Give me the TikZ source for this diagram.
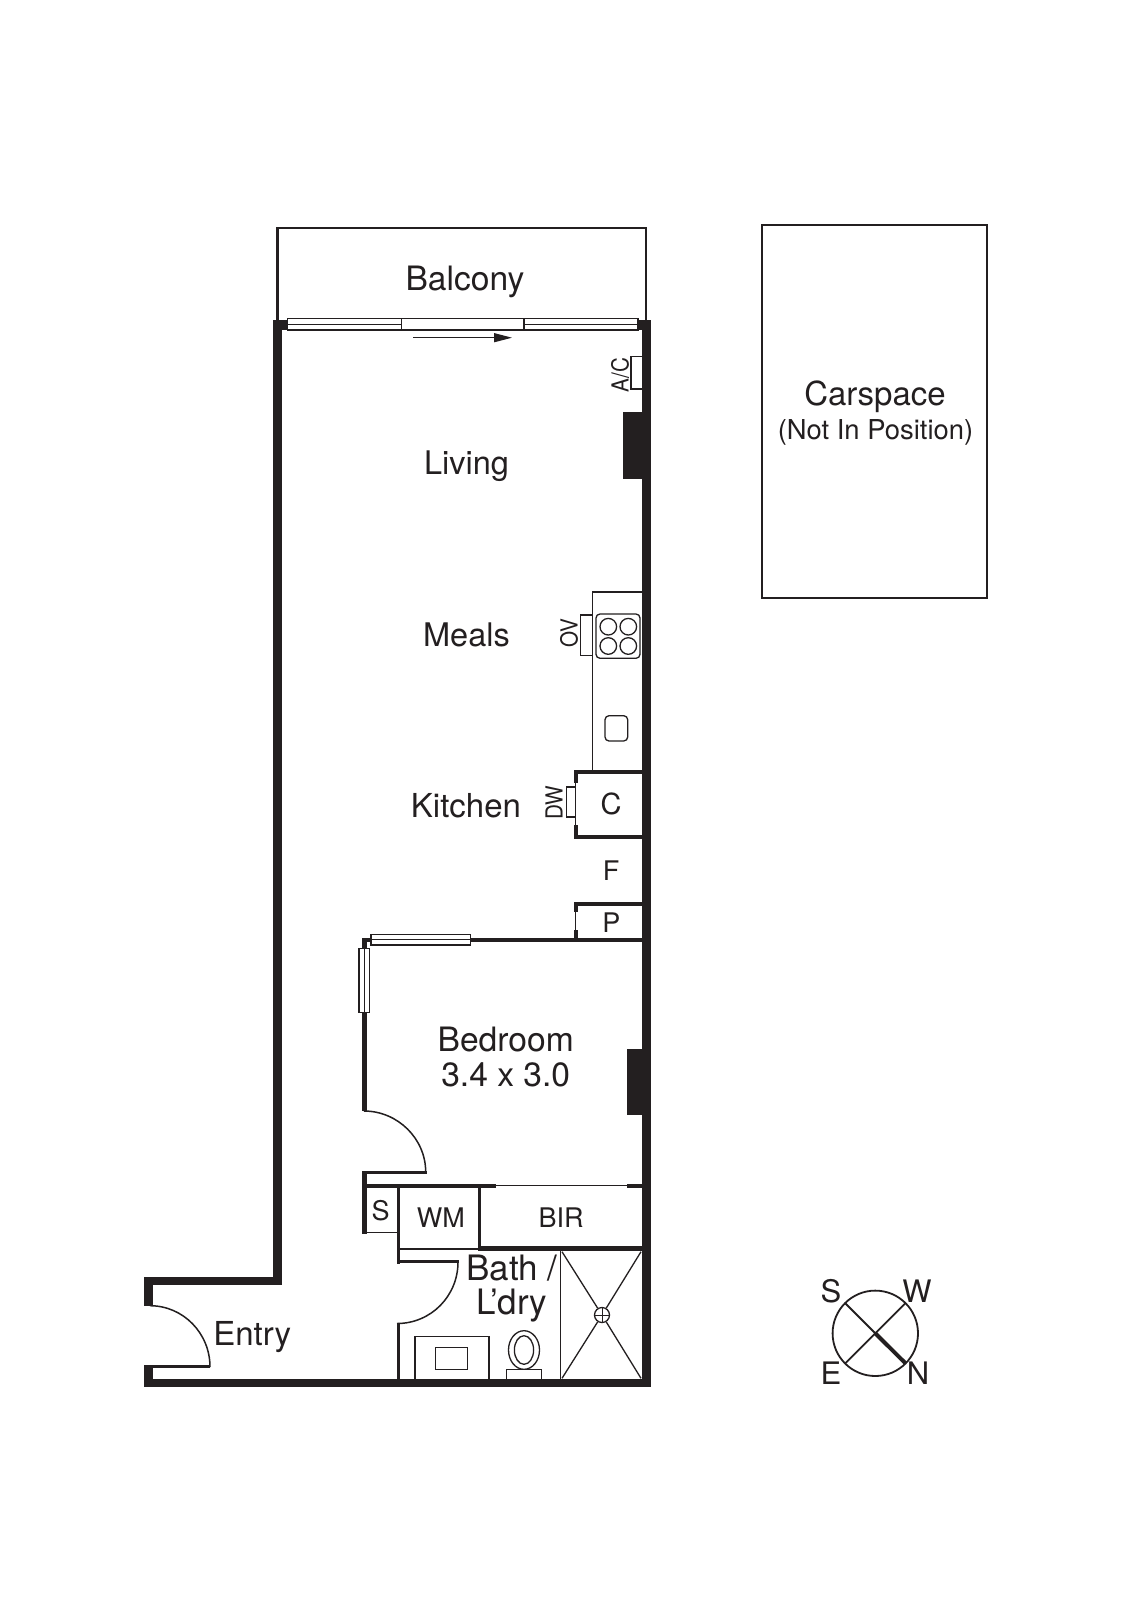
\documentclass[tikz,border=0pt]{standalone}
\usepackage{fontspec}
\setmainfont{TeX Gyre Heros}
\usetikzlibrary{arrows.meta}
\definecolor{ink}{HTML}{231F20}
\tikzset{
  wallfill/.style={fill=ink,draw=none},
  thin line/.style={draw=ink,line width=1.3pt},
  med line/.style={draw=ink,line width=1.7pt},
  doorleaf/.style={draw=ink,line width=1.5pt},
  windowbox/.style={draw=ink,line width=1.2pt,fill=white},
  lab/.style={anchor=base,inner sep=0pt,text=ink,font=\fontsize{33}{33}\selectfont},
  lbig/.style={anchor=base,inner sep=0pt,text=ink,font=\fontsize{33.6}{33.6}\selectfont},
  mid/.style={anchor=base,inner sep=0pt,text=ink,font=\fontsize{27}{27}\selectfont},
  sml/.style={anchor=center,inner sep=0pt,text=ink,rotate=90,xscale=.88,font=\fontsize{23.5}{23.5}\selectfont},
  cmp/.style={anchor=center,inner sep=0pt,text=ink,font=\fontsize{31}{31}\selectfont},
}
\newcommand{\wl}[4]{\fill[wallfill] (#1,#2) rectangle (#3,#4);}
\begin{document}
\begin{tikzpicture}[x=1pt,y=-1pt]
\useasboundingbox[fill=white] (0,0) rectangle (1131,1600);
% balcony
\draw[ink,line width=2.5pt] (277.5,322) -- (277.5,228) -- (646,228) -- (646,322);
% carspace
\draw[ink,line width=2pt] (762.3,225) rectangle (987.3,597.7);
% outer walls
\wl{273}{320}{282}{1284}
\wl{143.8}{1276.7}{282}{1284.5}
\wl{143.8}{1276.7}{152.7}{1305.7}
\wl{143.8}{1366}{152.7}{1387.3}
\wl{143.8}{1379.3}{650.7}{1387.3}
\wl{642}{320}{650.7}{1387.3}
\wl{273}{320}{290}{330}
\wl{636}{320}{650.7}{330}
% balcony door
\draw[windowbox] (287.7,318.7) rectangle (401.7,330);
\draw[windowbox] (524,318.7) rectangle (638,330);
\draw[windowbox] (401.7,318.7) rectangle (524,330);
\draw[ink,line width=1pt] (287.7,324.4) -- (401.7,324.4) (524,324.4) -- (638,324.4);
\coordinate (slideA) at (413,337.7);
\coordinate (slideB) at (512,337.7);
\draw[ink,line width=1.2pt,-{Triangle[length=18pt,width=9pt]}] (slideA) -- (slideB);
% A/C and chimney blocks
\draw[thin line] (642,356.7) -- (631,356.7) -- (631,389) -- (642,389);
\wl{623}{411.7}{642}{479}
% kitchen bench
\draw[med line] (592.5,770) -- (592.5,591.7) -- (642,591.7);
\draw[thin line] (592.5,615) -- (580.7,615) -- (580.7,655.7) -- (592.5,655.7);
\draw[thin line,rounded corners=4pt] (596,614) rectangle (640,658.3);
\foreach \cx/\cy in {608.3/626.7,628.3/626.7,608.3/646,628.3/646}
  \draw[thin line] (\cx,\cy) circle[radius=8.3pt];
\draw[thin line,rounded corners=4pt] (605,715.7) rectangle (627.7,741);
% C cupboard
\wl{574}{769.5}{642}{774}
\wl{574}{769.5}{578}{783}
\wl{574}{825}{578}{839}
\wl{574}{834.5}{642}{839}
\draw[thin line] (575.7,783) -- (575.7,825);
\draw[thin line] (575.7,787) -- (566.7,787) -- (566.7,817) -- (575.7,817);
% pantry
\wl{574}{902}{642}{906}
\wl{574}{902}{578}{911.7}
\wl{574}{930}{578}{942}
\draw[thin line] (575.7,911.7) -- (575.7,930);
% bedroom walls
\wl{362}{937.7}{642}{942.2}
\draw[windowbox] (371,934.3) rectangle (470.3,945);
\draw[ink,line width=1pt] (371,939.6) -- (470.3,939.6);
\wl{362}{937.7}{366.7}{950}
\wl{362}{1012}{366.7}{1111}
\draw[windowbox] (359,948.3) rectangle (369.7,1012.7);
\draw[ink,line width=1pt] (364.4,948.3) -- (364.4,1012.7);
\wl{627}{1049.3}{642}{1115}
% bedroom door
\draw[doorleaf] (364,1111) .. controls (397.5,1111) and (425.7,1138.5) .. (425.7,1172);
\wl{362.4}{1170.5}{426.5}{1174}
\wl{362.4}{1170.5}{366.8}{1233.5}
% robe wall
\wl{362.4}{1183.5}{496}{1188}
\draw[thin line] (496,1185.7) -- (627,1185.7);
\wl{627}{1183.5}{642}{1188}
% S / WM / BIR
\draw[med line] (362.4,1232.4) -- (398,1232.4);
\wl{396.8}{1186}{400}{1263.5}
\wl{477.6}{1186}{481.4}{1250.5}
\wl{478}{1246}{642}{1250.7}
\draw[thin line] (398,1249) -- (479,1249);
% bath door
\wl{396.8}{1260}{458.5}{1263.3}
\draw[doorleaf] (458,1262) .. controls (458,1296) and (431,1323.5) .. (397,1323.5);
\wl{396.8}{1323.3}{400}{1381}
% shower
\draw[thin line] (560.3,1250) -- (560.3,1380);
\coordinate (shTL) at (562,1251.7);
\coordinate (shTR) at (641,1251.7);
\coordinate (shBL) at (562,1378.3);
\coordinate (shBR) at (641,1378.3);
\node[circle,draw=ink,line width=1.3pt,minimum size=15pt,inner sep=0pt] (drain) at (602,1315) {};
\draw[thin line] (shTL) -- (drain) (shTR) -- (drain) (shBL) -- (drain) (shBR) -- (drain);
\draw[ink,line width=1pt] (drain.north) -- (drain.south) (drain.west) -- (drain.east);
% vanity
\draw[thin line] (415,1380) -- (415,1336.7) -- (489,1336.7) -- (489,1380);
\draw[thin line] (435.3,1347.7) rectangle (467.4,1369.3);
% toilet
\draw[thin line] (524,1350) circle[x radius=15.5pt,y radius=19.3pt];
\draw[thin line] (524,1350) circle[x radius=9.6pt,y radius=14.3pt];
\draw[thin line] (506.6,1380) -- (506.6,1369.3) -- (541.4,1369.3) -- (541.4,1380);
% entry door
\draw[doorleaf] (150,1305.7) .. controls (183,1305.7) and (210,1333) .. (210,1367);
\wl{143.8}{1365}{210}{1368.4}
% compass
\coordinate (cc) at (875.3,1333.3);
\draw[ink,line width=1.8pt] (cc) circle[radius=42.7pt];
\coordinate (cS) at (845,1303);
\coordinate (cN) at (905.7,1363.5);
\coordinate (cW) at (905.7,1303);
\coordinate (cE) at (845,1363.5);
\draw[ink,line width=1.8pt] (cS) -- (cc) (cW) -- (cE);
\draw[ink,line width=4pt] (cc) -- (cN);
% labels
\node[lbig] (balcony) at (465,290) {Balcony};
\node[lab,font=\fontsize{32.5}{32.5}\selectfont] (living) at (466.5,474) {Living};
\node[lab,font=\fontsize{32.5}{32.5}\selectfont] (meals) at (466.5,646) {Meals};
\node[lab] (kitchen) at (466,817) {Kitchen};
\node[lbig] (bedroom) at (505.7,1051.5) {Bedroom};
\node[lbig] (bedsize) at (505.7,1086.2) {3.4 x 3.0};
\node[lab] (entry) at (252.3,1345.5) {Entry};
\node[lab,font=\fontsize{35}{35}\selectfont] (bath) at (512,1280) {Bath /};
\node[lab,font=\fontsize{35}{35}\selectfont] (ldry) at (512,1314.3) {L’dry};
\node[lab] (car) at (875,405) {Carspace};
\node[lab,font=\fontsize{27.4}{27.4}\selectfont] (notpos) at (875.5,439.3) {(Not In Position)};
\node[mid,font=\fontsize{29}{29}\selectfont] (c) at (611,814) {C};
\node[mid] (f) at (611,880) {F};
\node[mid] (p) at (611.3,932) {P};
\node[mid] (s) at (380.6,1220) {S};
\node[mid] (wm) at (440.8,1227.5) {WM};
\node[mid] (bir) at (561,1227.5) {BIR};
\node[sml] (ac) at (620,375) {A/C};
\node[sml] (ov) at (569,633) {OV};
\node[sml] (dw) at (554,803) {DW};
\node[cmp] (ns) at (831,1291) {S};
\node[cmp] (nw) at (917,1291) {W};
\node[cmp] (ne) at (831,1373) {E};
\node[cmp] (nn) at (918,1373) {N};
\end{tikzpicture}
\end{document}
